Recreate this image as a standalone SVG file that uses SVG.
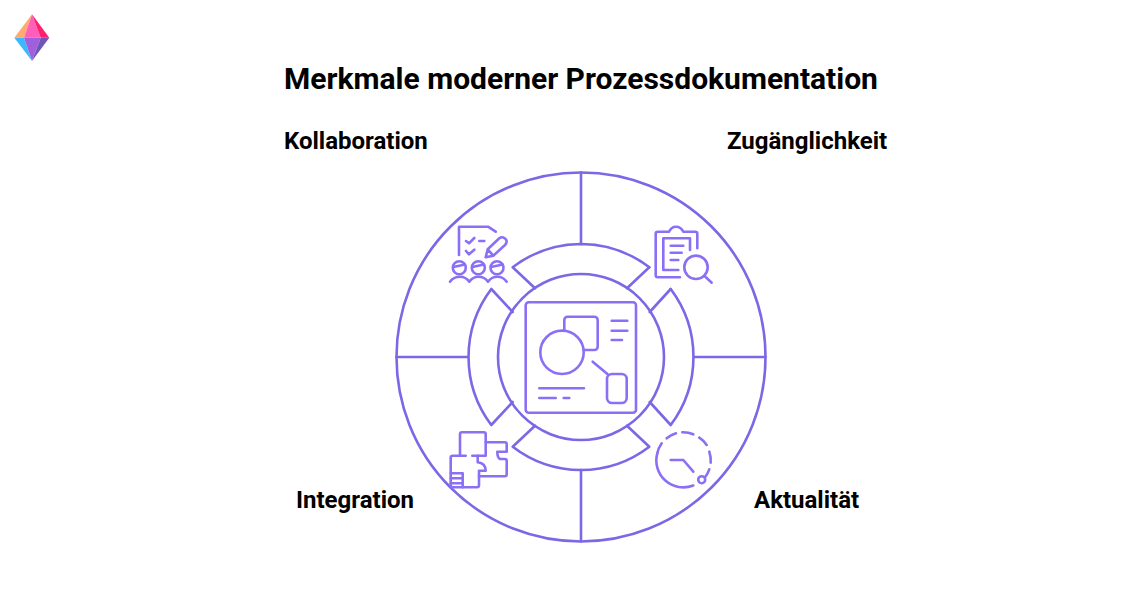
<svg xmlns="http://www.w3.org/2000/svg" width="1140" height="600" viewBox="0 0 1140 600">
<style>
text{font-family:"Roboto","Liberation Sans",sans-serif;font-weight:700;fill:#000}
.t{font-size:30px}
.l{font-size:24px}
.s{fill:none;stroke:#7B68E6;stroke-width:2.6;stroke-linecap:round;stroke-linejoin:round}
.i{fill:none;stroke:#8B70F5;stroke-width:2.6;stroke-linecap:round;stroke-linejoin:round}
</style>
<rect width="1140" height="600" fill="#fff"/>
<g id="logo">
<polygon points="32,14.3 14.3,37.7 24,37.7" fill="#FFAB70"/>
<polygon points="32,14.3 24,37.7 40.7,37.7" fill="#FF5FB8"/>
<polygon points="32,14.3 40.7,37.7 49.3,37.7" fill="#FF1F6F"/>
<polygon points="14.3,37.7 24,37.7 32,61" fill="#3DB8FF"/>
<polygon points="24,37.7 40.7,37.7 32,61" fill="#A060DC"/>
<polygon points="40.7,37.7 49.3,37.7 32,61" fill="#6F55B8"/>
</g>
<text id="title" class="t" x="581" y="89" text-anchor="middle">Merkmale moderner Prozessdokumentation</text>
<g id="connectors" class="s">
<circle cx="581" cy="357" r="184.5"/>
<path d="M581 172.500V244M581 470V541.500M396.500 357H468M694 357H765.500"/>
</g>
<g id="center" >
<circle class="s" cx="581" cy="357" r="83"/>
<g class="i">
<rect x="525.700" y="302.300" width="110.300" height="110.400" rx="3"/>
<circle cx="562" cy="352.300" r="21.700"/>
<path d="M564.300 330V320a3.300 3.300 0 0 1 3.300-3.300H594.400a3.300 3.300 0 0 1 3.300 3.300V346.700a3.300 3.300 0 0 1-3.300 3.300H584"/>
<path d="M611.700 320.700H627.300M611.700 330.700H627.300M611.700 340H622M592.700 361.700L607.700 374.300M539.300 388.300H584M539.300 398H555.700M563.700 398H569.300"/>
<rect x="607" y="374" width="19.700" height="29" rx="5"/>
</g>
</g>
<g id="kollaboration">
<text class="l" x="284" y="149">Kollaboration</text>
<path class="s" d="M512.700 267.300A113 113 0 0 1 581 244M512.700 267.300L535 288.300M581 244A113 113 0 0 1 649.300 267.300"/>
<g class="i">
<path d="M459 255V226.700H488L495.700 231.700"/>
<path d="M466 241L469 243.300L474.300 238M466 251L469 254.300L474.300 249.700M479.300 241H484.300"/>
<path d="M485.700 257.300L487.700 249.300L499.300 238.300C502 236.300 505 237.300 506.300 240C507 242 506.500 243.500 505 245L493.300 255.700ZM487.700 249.300L493.300 255.700"/>
<circle cx="459.300" cy="267.700" r="6.500"/><circle cx="478.300" cy="267.700" r="6.500"/><circle cx="497" cy="267.700" r="6.500"/>
<path d="M453.300 267L465 264.500M472.300 267L484 264.500M491 267L502.700 264.500"/>
<path d="M450 281.700C453 277.500 456 276.700 460 276.700C464 276.700 467 278.500 469.300 281.700C472 278 475 276.700 478.300 276.700C482 276.700 486 278.500 488 281.700C490.500 278 494 276.700 497.300 276.700C501 276.700 504.500 278.500 506.700 281.700"/>
</g>
</g>
<g id="zugaenglichkeit">
<text class="l" x="727" y="149">Zugänglichkeit</text>
<path class="s" d="M649.300 267.300L627 288.300M670.700 289L649.700 312"/>
<path class="s" d="M670.700 289A113 113 0 0 1 670.700 425M670.700 425L649.700 402"/>
<g class="i">
<path d="M669 231.700C670.500 228.500 673 226.700 676 226.700C679 226.700 681.800 228.500 683.300 231.700H695.300a2 2 0 0 1 2 2V248.300M680 277.300H657.700a2 2 0 0 1-2-2V233.700a2 2 0 0 1 2-2H669"/>
<path d="M663.300 238.300V270H678.300M663.300 238.300H690V250"/>
<path d="M670.700 245.700H683.300M670.700 252.700H681.700M670.700 260H678.300"/>
<circle cx="696" cy="267.300" r="11.700"/>
<path d="M704.300 275.700L711.700 282.700"/>
</g>
</g>
<g id="integration">
<text class="l" x="296" y="508">Integration</text>
<path class="s" d="M491.300 289A113 113 0 0 0 491.300 425M491.300 289L512.700 312M491.300 425L512.700 402"/>
<path class="s" d="M512.700 446.700A113 113 0 0 0 581 470M512.700 446.700L535 425.700"/>
<g class="i">
<path d="M460 455.700V434.300a2 2 0 0 1 2-2H483.700a2 2 0 0 1 2 2V455.700H472.300"/>
<path d="M485.700 442.300H504.700a2 2 0 0 1 2 2V451.700H497.300C497.300 455.500 498 458 500 459H504.700a2 2 0 0 1 2 2V474.300a2 2 0 0 1-2 2H479V485.300a2 2 0 0 1-2 2H452.700a2 2 0 0 1-2-2V457.700a2 2 0 0 1 2-2H465.700"/>
<path d="M477.700 455.700V462.300C482.500 463 485.700 466 485.700 470.700H479V476.300"/>
<path d="M450.700 473.300H462.700M450.700 478.300H462.700M450.700 483.300H462.700M462.700 473.300V487.300"/>
</g>
</g>
<g id="aktualitaet">
<text class="l" x="754" y="508">Aktualität</text>
<path class="s" d="M581 470A113 113 0 0 0 649.300 446.700L627 425.700"/>
<g class="i">
<path d="M657.300 453.300A27 27 0 0 0 693.300 485.500"/>
<path d="M657.300 453.300A27 27 0 0 1 661.700 443.300M666.700 438.300A27 27 0 0 1 676 433.300M682.300 432.300A27 27 0 0 1 693.300 434.300M699.300 437.700A27 27 0 0 1 706.700 445M709.300 451.700A27 27 0 0 1 710.700 462.700M709.300 469.300A27 27 0 0 1 705 477.300"/>
<path d="M670.700 460H683.300L693.300 471.700"/>
<circle cx="701.700" cy="479.700" r="3.500"/>
</g>
</g>
</svg>
